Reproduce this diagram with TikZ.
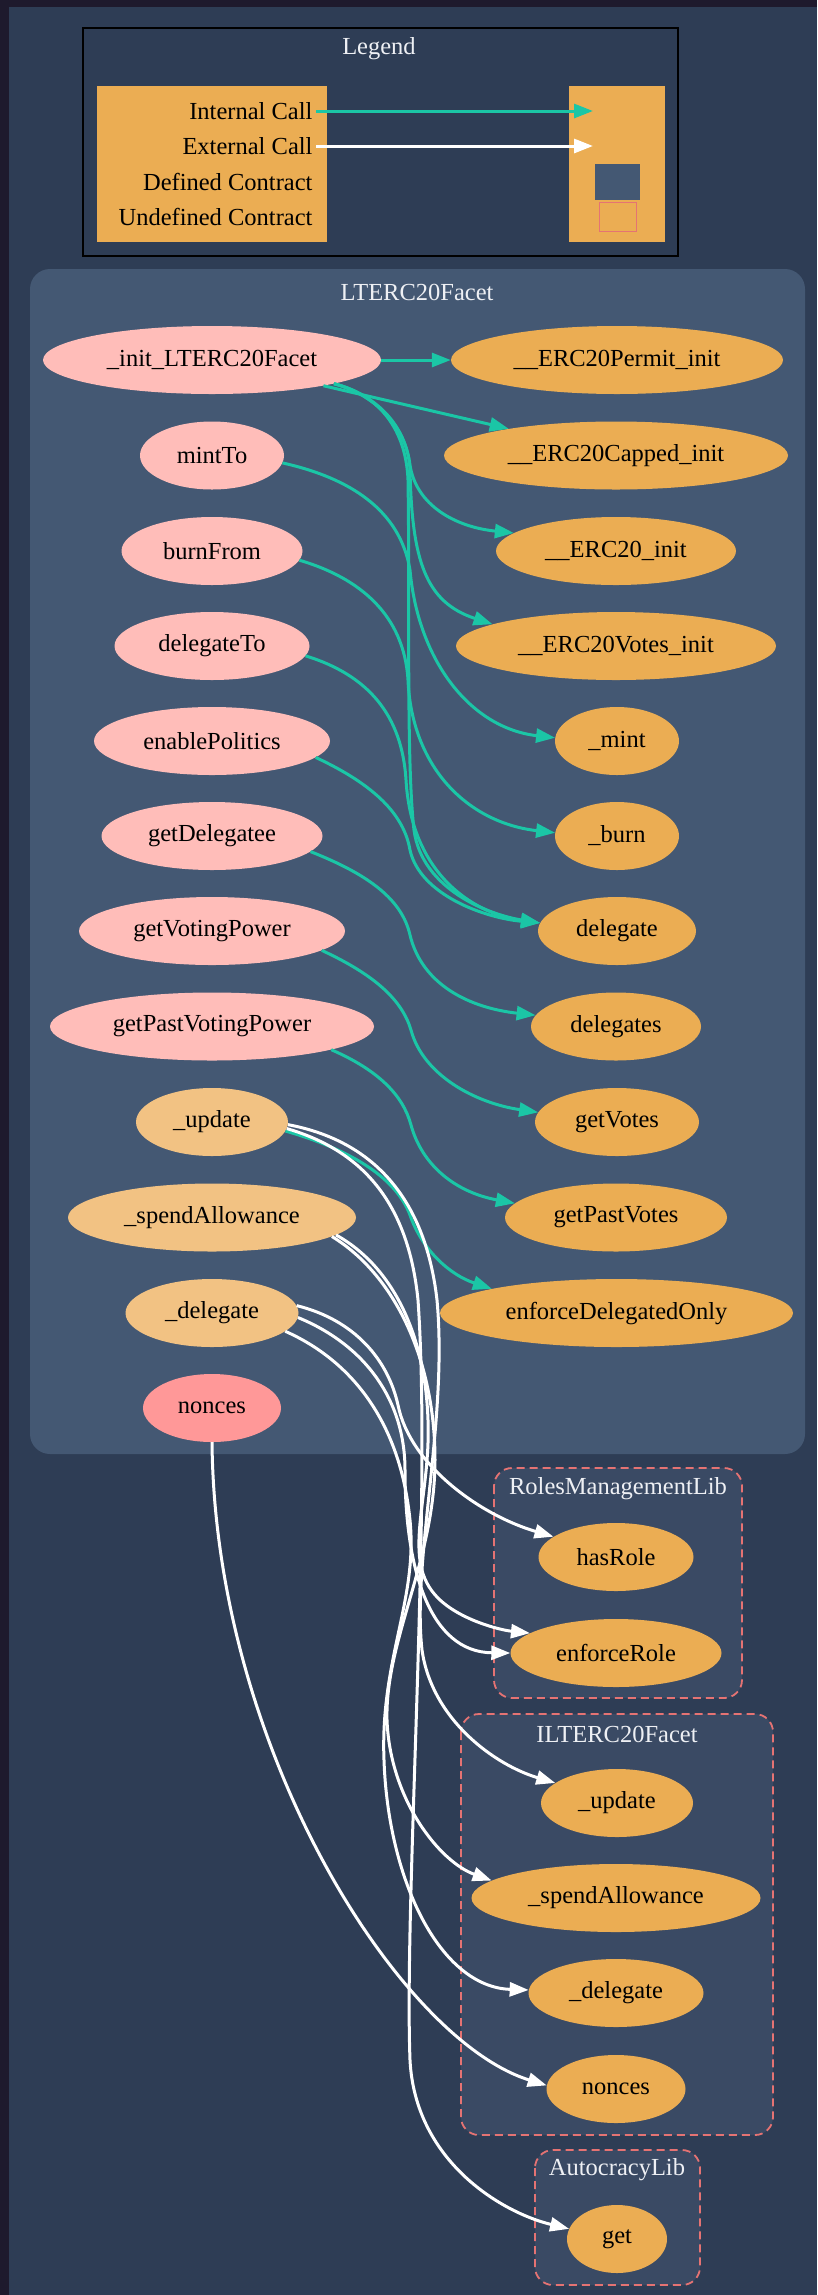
\documentclass[tikz,border=0pt]{standalone}
\usepackage{fontspec}
\setmainfont{Liberation Serif}
\usetikzlibrary{shapes.geometric,arrows.meta}

\definecolor{frameC}{HTML}{1E1A2D}
\definecolor{bgC}{HTML}{2E3D55}
\definecolor{clusterC}{HTML}{445873}
\definecolor{undefC}{HTML}{3A4A64}
\definecolor{dashC}{HTML}{E57373}
\definecolor{pinkC}{HTML}{FFBDB9}
\definecolor{orangeC}{HTML}{EBAD53}
\definecolor{lightC}{HTML}{F2C283}
\definecolor{salmonC}{HTML}{FF9898}
\definecolor{tealC}{HTML}{1BC6A6}
\definecolor{titleC}{HTML}{EEF0F4}

\begin{document}
\begin{tikzpicture}[x=1pt,y=-1pt,
  every node/.style={font=\fontsize{24.5}{28}\selectfont},
  fn/.style={ellipse, inner sep=0pt, minimum height=68pt, text=black},
  pub/.style={fn, fill=pinkC},
  inh/.style={fn, fill=orangeC},
  own/.style={fn, fill=lightC},
  plain/.style={fn, fill=salmonC},
  ctitle/.style={text=titleC},
  intcall/.style={draw=tealC, line width=3pt, -{Triangle[length=19pt,width=14pt]}},
  extcall/.style={draw=white, line width=3pt, -{Triangle[length=19pt,width=14pt]}},
  defbox/.style={fill=clusterC, rounded corners=20pt},
  undefbox/.style={fill=undefC, draw=dashC, line width=1.8pt, dash pattern=on 8pt off 5pt, rounded corners=18pt}
]
\useasboundingbox (0,0) rectangle (817,2295);

% canvas
\fill[frameC] (0,0) rectangle (817,2295);
\fill[bgC] (9,7) rectangle (817,2295);

% ---------- legend ----------
\draw[black, line width=2pt] (83,28) rectangle (678,256);
\node[ctitle] (legTitle) at (379,49) {Legend};
\node[fill=orangeC, inner sep=0pt, minimum width=230pt, minimum height=156pt] (legKeys) at (212,164) {};
\node[fill=orangeC, inner sep=0pt, minimum width=96pt, minimum height=156pt] (legSwatch) at (617,164) {};
\node[anchor=east] (lInt) at (316,111) {Internal Call};
\node[anchor=east] (lExt) at (316,146) {External Call};
\node[anchor=east] (lDef) at (316,182) {Defined Contract};
\node[anchor=east] (lUndef) at (316,217) {Undefined Contract};
\coordinate (intTip) at (593,111);
\coordinate (extTip) at (593,146);
\draw[intcall] (lInt.east) -- (intTip);
\draw[extcall] (lExt.east) -- (extTip);
\node[fill=clusterC, inner sep=0pt, minimum width=45pt, minimum height=36pt] (defSw) at (617.5,182) {};
\node[fill=orangeC, draw=dashC, line width=1.5pt, inner sep=0pt, minimum width=37pt, minimum height=29pt] (undefSw) at (618,217) {};

% ---------- contract clusters ----------
\path[defbox] (30,269) rectangle (805,1454);
\node[ctitle] (tFacet) at (417,292) {LTERC20Facet};

\path[undefbox] (494,1468) rectangle (742,1698);
\node[ctitle] (tRoles) at (618,1489) {RolesManagementLib};

\path[undefbox] (461,1714) rectangle (773,2135);
\node[ctitle] (tIFacet) at (617,1734) {ILTERC20Facet};

\path[undefbox] (535,2150) rectangle (700,2285);
\node[ctitle] (tAuto) at (617,2170) {AutocracyLib};

% ---------- LTERC20Facet functions ----------
\node[pub, minimum width=338pt] (init) at (212,360) {\_init\_LTERC20Facet};
\node[pub, minimum width=144pt] (mintTo) at (212,455.5) {mintTo};
\node[pub, minimum width=181pt] (burnFrom) at (212,551) {burnFrom};
\node[pub, minimum width=195pt] (delegateTo) at (212,646) {delegateTo};
\node[pub, minimum width=236pt] (enablePol) at (212,741) {enablePolitics};
\node[pub, minimum width=221pt] (getDelegatee) at (212,836) {getDelegatee};
\node[pub, minimum width=266pt] (getVotingPower) at (212,931) {getVotingPower};
\node[pub, minimum width=324pt] (getPastVP) at (212,1026.5) {getPastVotingPower};
\node[own, minimum width=152pt] (updateL) at (212,1122) {\_update};
\node[own, minimum width=288pt] (spendL) at (212,1217.5) {\_spendAllowance};
\node[own, minimum width=173pt] (delegateL) at (212,1313) {\_delegate};
\node[plain, minimum width=138pt] (noncesL) at (212,1408) {nonces};

\node[inh, minimum width=332pt] (permit) at (617,360) {\_\_ERC20Permit\_init};
\node[inh, minimum width=344pt] (capped) at (616,455.5) {\_\_ERC20Capped\_init};
\node[inh, minimum width=240pt] (ercinit) at (616,551) {\_\_ERC20\_init};
\node[inh, minimum width=320pt] (votesinit) at (616,646) {\_\_ERC20Votes\_init};
\node[inh, minimum width=124pt] (mint) at (617,741) {\_mint};
\node[inh, minimum width=124pt] (burn) at (617,836) {\_burn};
\node[inh, minimum width=158pt] (delegate) at (617,931) {delegate};
\node[inh, minimum width=170pt] (delegates) at (616,1026.5) {delegates};
\node[inh, minimum width=164pt] (getVotes) at (617,1122) {getVotes};
\node[inh, minimum width=222pt] (getPastVotes) at (616,1217.5) {getPastVotes};
\node[inh, minimum width=353pt] (enforceDO) at (616.5,1313) {enforceDelegatedOnly};

% ---------- external functions ----------
\node[inh, minimum width=155pt] (hasRole) at (616,1557) {hasRole};
\node[inh, minimum width=211pt] (enforceRole) at (616,1653) {enforceRole};
\node[inh, minimum width=152pt] (updateI) at (617,1803) {\_update};
\node[inh, minimum width=289pt] (spendI) at (616,1898) {\_spendAllowance};
\node[inh, minimum width=175pt] (delegateI) at (616,1993) {\_delegate};
\node[inh, minimum width=139pt] (noncesI) at (616,2089) {nonces};
\node[inh, minimum width=100pt] (get) at (617,2239) {get};

% ---------- internal calls ----------
\draw[intcall] (init.east) -- (permit.west);
\draw[intcall] (init.-13) -- (capped.166);
\draw[intcall] (init.-11) .. controls (375,395) and (405,425) .. (410,465)
  .. controls (416,505) and (455,527) .. (ercinit.170);
\draw[intcall] (init.-11) .. controls (378,395) and (408,428) .. (410,470)
  .. controls (412,560) and (425,602) .. (votesinit.170);
\draw[intcall] (init.-11) .. controls (380,395) and (406,430) .. (408,480)
  .. controls (410,600) and (406,760) .. (414,830)
  .. controls (422,890) and (490,915) .. (delegate.174);
\draw[intcall] (mintTo.-6) .. controls (350,478) and (400,510) .. (410,570)
  .. controls (418,660) and (470,728) .. (mint.177);
\draw[intcall] (burnFrom.-6) .. controls (360,578) and (404,615) .. (408,680)
  .. controls (412,770) and (470,823) .. (burn.177);
\draw[intcall] (delegateTo.-6) .. controls (368,675) and (402,715) .. (406,780)
  .. controls (412,880) and (480,915) .. (delegate.174);
\draw[intcall] (enablePol.-9) .. controls (375,785) and (404,815) .. (410,850)
  .. controls (420,895) and (485,918) .. (delegate.174);
\draw[intcall] (getDelegatee.-9) .. controls (370,875) and (402,900) .. (410,935)
  .. controls (422,985) and (470,1008) .. (delegates.172);
\draw[intcall] (getVotingPower.-10) .. controls (375,975) and (402,1000) .. (411,1030)
  .. controls (423,1075) and (475,1103) .. (getVotes.173);
\draw[intcall] (getPastVP.-11) .. controls (378,1070) and (403,1095) .. (411,1125)
  .. controls (422,1165) and (455,1192) .. (getPastVotes.172);
\draw[intcall] (updateL.-7) .. controls (345,1148) and (395,1175) .. (410,1215)
  .. controls (422,1250) and (450,1275) .. (enforceDO.169);

% ---------- external calls ----------
\draw[extcall] (updateL.-2) .. controls (370,1140) and (425,1195) .. (437,1300)
  .. controls (448,1420) and (412,1560) .. (422,1650)
  .. controls (432,1720) and (495,1765) .. (updateI.162);
\draw[extcall] (updateL.-5) .. controls (360,1150) and (408,1200) .. (418,1300)
  .. controls (432,1500) and (404,1900) .. (410,2060)
  .. controls (415,2160) and (500,2212) .. (get.168);
\draw[extcall] (spendL.-8) .. controls (390,1265) and (425,1330) .. (428,1420)
  .. controls (431,1500) and (400,1560) .. (438,1598)
  .. controls (460,1620) and (500,1630) .. (enforceRole.167);
\draw[extcall] (spendL.-9) .. controls (395,1275) and (435,1360) .. (435,1460)
  .. controls (435,1560) and (385,1640) .. (387,1720)
  .. controls (390,1800) and (440,1862) .. (spendI.172);
\draw[extcall] (delegateL.5) .. controls (355,1320) and (388,1360) .. (398,1405)
  .. controls (410,1465) and (480,1515) .. (hasRole.162);
\draw[extcall] (delegateL.-3) .. controls (365,1345) and (405,1400) .. (405,1470)
  .. controls (405,1570) and (430,1652) .. (enforceRole.180);
\draw[extcall] (delegateL.-14) .. controls (350,1360) and (400,1420) .. (410,1520)
  .. controls (418,1600) and (380,1660) .. (384,1760)
  .. controls (388,1880) and (440,1987) .. (delegateI.178);
\draw[extcall] (noncesL.-90) .. controls (215,1750) and (400,2040) .. (noncesI.177);
\end{tikzpicture}
\end{document}
